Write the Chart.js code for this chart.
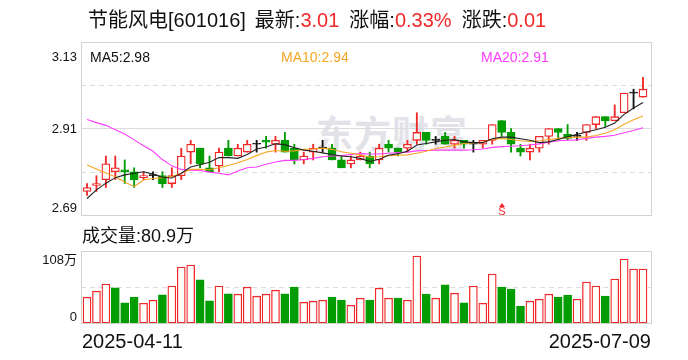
<!DOCTYPE html>
<html><head><meta charset="utf-8">
<script src="https://cdn.jsdelivr.net/npm/chart.js@4.4.1/dist/chart.umd.min.js"></script>
<style>
html,body{margin:0;padding:0;background:#fff;}
#wrap{position:relative;width:688px;height:360px;overflow:hidden;font-family:"Liberation Sans","Noto Sans CJK SC",sans-serif;color:#111;}
canvas{position:absolute;left:0;top:0;}
.t{position:absolute;white-space:nowrap;line-height:1;}
.r{color:#f02828;}
#wm{position:absolute;left:316px;top:105px;font-size:37px;font-weight:bold;color:#e2e2e9;font-family:"Noto Sans CJK SC",sans-serif;letter-spacing:1px;}
</style></head><body>
<div id="wrap">
<div id="wm">东方财富</div>
<canvas id="pc" width="688" height="360"></canvas>
<canvas id="vc" width="688" height="360"></canvas>
</div>
<script>
// ---------- data ----------
const stockName = "节能风电", stockCode = "601016";
const latestText = "3.01", pctText = "0.33%", changeText = "0.01";
const startDate = "2025-04-11", endDate = "2025-07-09";
const volumeText = "80.9万";
const open  = [2.75,2.765,2.78,2.80,2.805,2.80,2.785,2.79,2.79,2.77, 2.79,2.85,2.86,2.81,2.815,2.86,2.84,2.85,2.87,2.88, 2.87,2.88,2.86,2.83,2.85,2.86,2.86,2.83,2.82,2.83, 2.84,2.83,2.87,2.86,2.86,2.88,2.90,2.88,2.89,2.87, 2.88,2.87,2.87,2.88,2.93,2.90,2.86,2.85,2.86,2.89, 2.91,2.895,2.89,2.90,2.92,2.94,2.93,2.95,3.00,2.99];
const close = [2.76,2.77,2.82,2.81,2.80,2.78,2.79,2.79,2.77,2.79, 2.84,2.87,2.82,2.80,2.85,2.84,2.86,2.87,2.87,2.875, 2.88,2.85,2.83,2.84,2.86,2.86,2.83,2.81,2.83,2.84, 2.82,2.86,2.86,2.85,2.87,2.90,2.88,2.88,2.87,2.88, 2.87,2.87,2.88,2.92,2.90,2.87,2.85,2.86,2.89,2.91, 2.90,2.885,2.89,2.92,2.94,2.93,2.94,3.00,3.00,3.01];
const high  = [2.77,2.79,2.84,2.84,2.83,2.81,2.80,2.80,2.80,2.81, 2.86,2.88,2.86,2.84,2.86,2.88,2.87,2.88,2.88,2.89, 2.89,2.90,2.87,2.85,2.87,2.88,2.87,2.84,2.84,2.85, 2.85,2.87,2.88,2.86,2.88,2.95,2.90,2.89,2.90,2.89, 2.88,2.88,2.88,2.92,2.93,2.91,2.87,2.87,2.89,2.91, 2.91,2.92,2.90,2.92,2.94,2.94,2.97,3.00,3.01,3.04];
const low   = [2.74,2.75,2.76,2.78,2.77,2.76,2.78,2.78,2.76,2.76, 2.78,2.82,2.81,2.80,2.80,2.84,2.84,2.85,2.85,2.86, 2.85,2.85,2.82,2.82,2.83,2.85,2.83,2.81,2.81,2.83, 2.81,2.82,2.85,2.84,2.85,2.87,2.87,2.87,2.87,2.86, 2.86,2.85,2.86,2.87,2.89,2.85,2.84,2.83,2.85,2.87, 2.88,2.88,2.88,2.88,2.91,2.915,2.93,2.95,2.96,2.99];
const ma5  = [2.732,2.754,2.771,2.785,2.792,2.796,2.800,2.794,2.786,2.784, 2.796,2.812,2.818,2.824,2.836,2.836,2.834,2.844,2.858,2.863, 2.871,2.869,2.861,2.855,2.852,2.848,2.844,2.840,2.838,2.834, 2.826,2.832,2.842,2.846,2.852,2.868,2.872,2.876,2.880,2.882, 2.876,2.874,2.874,2.884,2.888,2.888,2.884,2.880,2.874,2.876, 2.882,2.889,2.895,2.901,2.907,2.913,2.924,2.946,2.962,2.976];
const ma10 = [2.817,2.807,2.797,2.787,2.774,2.762,2.779,2.783,2.785,2.788, 2.796,2.806,2.806,2.805,2.810,2.816,2.823,2.831,2.841,2.850, 2.854,2.852,2.853,2.857,2.858,2.860,2.857,2.851,2.847,2.843, 2.837,2.838,2.841,2.842,2.843,2.847,2.852,2.859,2.863,2.867, 2.872,2.873,2.875,2.882,2.885,2.882,2.879,2.877,2.879,2.882, 2.885,2.887,2.888,2.888,2.892,2.898,2.907,2.921,2.932,2.942];
const ma20 = [2.933,2.925,2.918,2.907,2.896,2.881,2.866,2.852,2.831,2.815, 2.806,2.804,2.803,2.799,2.796,2.792,2.802,2.810,2.812,2.819, 2.825,2.829,2.829,2.831,2.834,2.838,2.840,2.841,2.844,2.846, 2.845,2.845,2.847,2.849,2.850,2.853,2.854,2.855,2.855,2.855, 2.855,2.856,2.858,2.862,2.864,2.865,2.866,2.868,2.871,2.875, 2.879,2.880,2.881,2.885,2.888,2.890,2.893,2.899,2.905,2.912];
const volume = [38.7,47.7,58.3,52.7,30.1,38.7,29.6,34.2,42.2,55.3, 83.9,86.9,64.8,33.2,55.3,43.7,43.2,53.7,40.2,43.2, 49.2,43.7,53.7,31.1,32.7,34.2,38.7,34.2,26.6,37.2, 34.2,52.2,37.2,37.2,34.2,100.5,43.2,37.2,57.3,44.7, 30.1,55.3,29.6,73.3,53.7,50.7,25.1,32.7,35.7,43.2, 38.7,41.7,35.7,61.3,55.3,40.2,65.8,95.9,80.9,80.9];
const volUp = [1,1,1,0,0,0,1,1,0,1, 1,1,0,0,1,0,1,1,1,1, 1,0,0,1,1,1,0,0,1,1, 0,1,1,0,1,1,0,1,0,1, 0,1,1,1,0,0,0,1,1,1, 0,0,1,1,1,0,1,1,1,1];
const priceTicks = [2.69, 2.80, 2.91, 3.02, 3.13];
const priceLabels = ["2.69", "2.91", "3.13"];
const volTicks = [0, 54, 108];
const volLabels = ["0", "108万"];
const maLegend = [["MA5", "2.98"], ["MA10", "2.94"], ["MA20", "2.91"]];
const sellSignals = [44];

// ---------- style ----------
const RED = "#f02828", GREEN = "#009c00", BLACK = "#111";
const MA_COLORS = ["#222222", "#f5a623", "#ff3cff"];
const FRAME = "#d2d2d2", GRID = "#dcdcdc";

const candleColor = i => close[i] > open[i] ? RED : (close[i] < open[i] ? GREEN : BLACK);
const candleFill = i => close[i] > open[i] ? "#ffffff" : candleColor(i);

function gridPlugin(ticks, dashedFn) {
  return {
    id: 'gridbox',
    beforeDatasetsDraw(chart) {
      const {ctx, chartArea: a, scales: {y}} = chart;
      ctx.save();
      ctx.lineWidth = 1;
      ticks.forEach((v, k) => {
        if (k === 0 || k === ticks.length - 1) return;
        const py = Math.round(y.getPixelForValue(v)) + 0.5;
        ctx.strokeStyle = GRID;
        ctx.setLineDash(dashedFn(k) ? [5, 4] : []);
        ctx.beginPath(); ctx.moveTo(a.left, py); ctx.lineTo(a.right, py); ctx.stroke();
      });
      ctx.setLineDash([]);
      ctx.strokeStyle = FRAME;
      ctx.strokeRect(Math.round(a.left) + 0.5, Math.round(a.top) + 0.5, Math.round(a.right - a.left), Math.round(a.bottom - a.top));
      ctx.restore();
    }
  };
}

const X_MIN = -0.64, X_MAX = 59.85;
const xScale = {type: 'linear', min: X_MIN, max: X_MAX, display: false, offset: false};

const pChart = new Chart(document.getElementById('pc'), {
  type: 'bar',
  data: {
    datasets: [
      {type: 'line', data: ma5.map((v, i) => ({x: i, y: v})), borderColor: MA_COLORS[0], borderWidth: 1.1, pointRadius: 0, tension: 0, order: 0},
      {type: 'line', data: ma10.map((v, i) => ({x: i, y: v})), borderColor: MA_COLORS[1], borderWidth: 1.1, pointRadius: 0, tension: 0, order: 0},
      {type: 'line', data: ma20.map((v, i) => ({x: i, y: v})), borderColor: MA_COLORS[2], borderWidth: 1.1, pointRadius: 0, tension: 0, order: 0},
      {type: 'bar', data: open.map((o, i) => ({x: i, y: [o, close[i]]})), grouped: false, barThickness: 8, minBarLength: 1,
        borderWidth: 1.3, borderSkipped: false,
        backgroundColor: c => candleFill(c.dataIndex), borderColor: c => candleColor(c.dataIndex), order: 2},
      {type: 'bar', data: low.map((l, i) => ({x: i, y: [l, high[i]]})), grouped: false, barThickness: 1.2,
        borderWidth: 0, backgroundColor: c => candleColor(c.dataIndex), order: 3}
    ]
  },
  options: {
    responsive: false, animation: false, devicePixelRatio: 1,
    layout: {padding: {left: 81, top: 42, right: 37, bottom: 145}},
    plugins: {legend: {display: false}, tooltip: {enabled: false}},
    scales: {x: xScale, y: {min: priceTicks[0], max: priceTicks[priceTicks.length - 1], display: false}}
  },
  plugins: [gridPlugin(priceTicks, k => k !== 2)]
});

const vChart = new Chart(document.getElementById('vc'), {
  type: 'bar',
  data: {
    datasets: [{data: volume.map((v, i) => ({x: i, y: v})), barThickness: 8, borderWidth: 1.3, borderSkipped: false,
      backgroundColor: c => volUp[c.dataIndex] ? "#ffffff" : GREEN,
      borderColor: c => volUp[c.dataIndex] ? RED : GREEN}]
  },
  options: {
    responsive: false, animation: false, devicePixelRatio: 1,
    layout: {padding: {left: 81, top: 251, right: 37, bottom: 37}},
    plugins: {legend: {display: false}, tooltip: {enabled: false}},
    scales: {x: {...xScale}, y: {min: volTicks[0], max: volTicks[volTicks.length - 1], display: false}}
  },
  plugins: [gridPlugin(volTicks, k => true)]
});

// ---------- text ----------
const wrap = document.getElementById('wrap');
function addText(html, style) {
  const d = document.createElement('div');
  d.className = 't';
  d.innerHTML = html;
  Object.assign(d.style, style);
  wrap.appendChild(d);
  return d;
}
addText(`${stockName}[${stockCode}]<span style="margin-left:9px">最新:</span><span class="r">${latestText}</span><span style="margin-left:10px">涨幅:</span><span class="r">${pctText}</span><span style="margin-left:10px">涨跌:</span><span class="r">${changeText}</span>`,
  {left: '88px', top: '10px', fontSize: '20px', color: '#111'});

const py = pChart.scales.y, pa = pChart.chartArea;
const labFont = '13px';
function rightLabel(txt, cy) {
  addText(txt, {right: (688 - 77) + 'px', top: (cy - 7) + 'px', fontSize: labFont, color: '#111', textAlign: 'right'});
}
rightLabel(priceLabels[2], pa.top + 15);
rightLabel(priceLabels[1], py.getPixelForValue(2.91));
rightLabel(priceLabels[0], pa.bottom - 7);

const va = vChart.chartArea;
rightLabel(volLabels[1], va.top + 9);
rightLabel(volLabels[0], va.bottom - 6);

const legX = [90, 281, 481];
maLegend.forEach((m, k) => addText(`${m[0]}:${m[1]}`, {left: legX[k] + 'px', top: '50px', fontSize: '14px', color: MA_COLORS[k] === '#222222' ? '#111' : MA_COLORS[k]}));

addText(`成交量:${volumeText}`, {left: '82px', top: '227px', fontSize: '18px', color: '#111'});
addText(startDate, {left: '82px', top: '331px', fontSize: '20px', color: '#111'});
addText(endDate, {right: (688 - 651) + 'px', top: '331px', fontSize: '20px', color: '#111'});

// sell signal markers
const px = pChart.scales.x;
sellSignals.forEach(i => {
  const cx = px.getPixelForValue(i);
  const tri = document.createElement('div');
  Object.assign(tri.style, {position: 'absolute', left: (cx - 3) + 'px', top: '203px', width: 0, height: 0,
    borderLeft: '3px solid transparent', borderRight: '3px solid transparent', borderBottom: '4px solid ' + RED});
  wrap.appendChild(tri);
  addText('S', {left: (cx - 3.5) + 'px', top: '206px', fontSize: '11px', color: RED});
});
</script>
</body></html>
